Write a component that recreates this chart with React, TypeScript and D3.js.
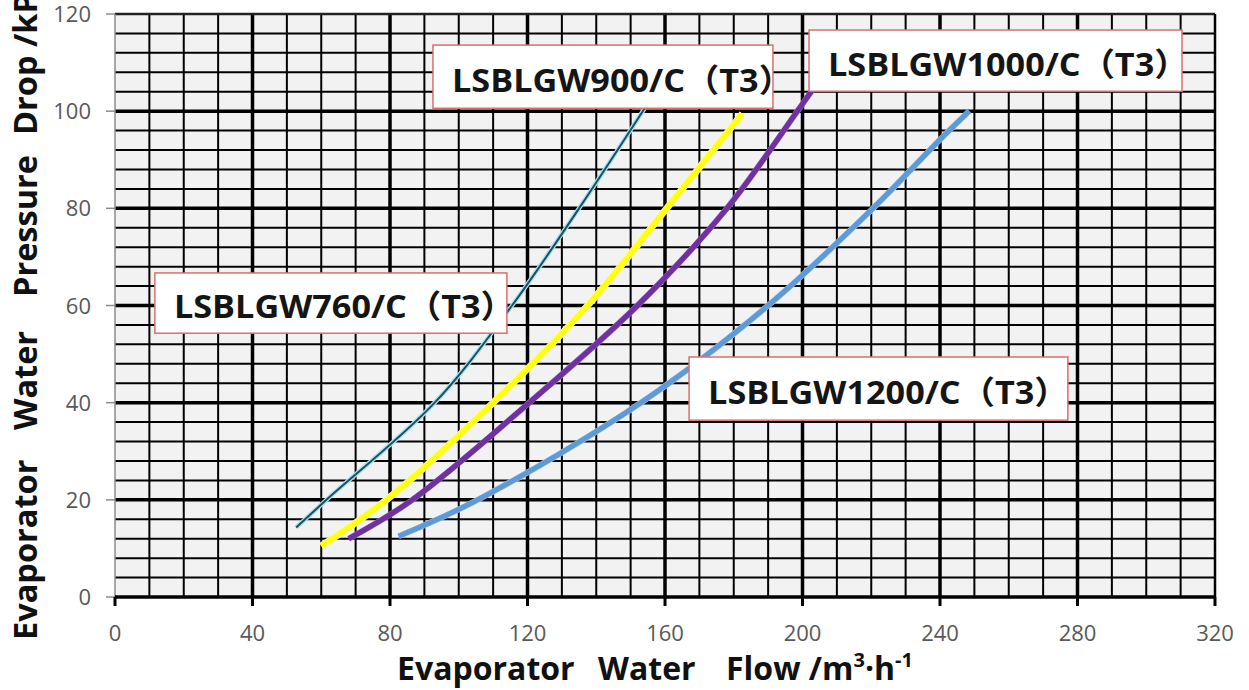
import * as d3 from "d3";
import { useEffect, useRef } from "react";

// axis ticks
const xTicks = [0, 40, 80, 120, 160, 200, 240, 280, 320];
const yTicks = [0, 20, 40, 60, 80, 100, 120];

// curves: flow (m3/h) vs pressure drop (kPa)
const flow760 = [52.7, 61.5, 93, 115.5, 135, 154];
const drop760 = [14.3, 20, 40, 60, 80, 100.5];
const flow900 = [60, 79, 110, 137.5, 160.5, 182.5];
const drop900 = [10.5, 20, 40, 60, 80, 99.5];
const flow1000 = [68, 86.5, 120.5, 152, 178, 198.5, 205.5];
const drop1000 = [12, 20, 40, 60, 80, 100, 107];
const flow1200 = [82.5, 105.5, 153, 190, 220.5, 240.5, 248.5];
const drop1200 = [12.5, 20, 40, 60, 80, 94.5, 100];

const modelNames = [
  "LSBLGW760/C（T3）",
  "LSBLGW900/C（T3）",
  "LSBLGW1000/C（T3）",
  "LSBLGW1200/C（T3）",
];

const FONT = "'Open Sans', 'Noto Sans CJK SC', sans-serif";

export default function App() {
  const svgRef = useRef<SVGSVGElement>(null);
  const width = 1249;
  const height = 690;

  useEffect(() => {
    const svg = d3.select(svgRef.current);
    svg.selectAll("*").remove();

    const x = d3.scaleLinear().domain([0, 320]).range([115, 1215]);
    const y = d3.scaleLinear().domain([0, 120]).range([597, 14]);

    const series = [
      { name: modelNames[0], flow: flow760, drop: drop760, color: "#1d4f5c", halo: "#a6e2f0", w: 2, hw: 4.5 },
      { name: modelNames[1], flow: flow900, drop: drop900, color: "#ffff10", halo: "#fafaa0", w: 5.5, hw: 7 },
      { name: modelNames[2], flow: flow1000, drop: drop1000, color: "#7030a0", halo: "#9a6cc0", w: 5, hw: 6 },
      { name: modelNames[3], flow: flow1200, drop: drop1200, color: "#5e9ad6", halo: "#9cc2ea", w: 5, hw: 6 },
    ];

    // label boxes, in data units (x0, x1, y top, y bottom)
    const boxes = [
      { x0: 11.6, x1: 114, yt: 66.7, yb: 54.3 },
      { x0: 92.5, x1: 191.4, yt: 113.6, yb: 100.6 },
      { x0: 201.9, x1: 310.4, yt: 116.7, yb: 104.1 },
      { x0: 167, x1: 277.2, yt: 49.4, yb: 36.4 },
    ];

    const g = svg.append("g");

    g.append("rect")
      .attr("x", x(0))
      .attr("y", y(120))
      .attr("width", x(320) - x(0))
      .attr("height", y(0) - y(120))
      .attr("fill", "#f2f2f2");

    const xGrid = d3.range(10, 320, 10);
    const yGrid = d3.range(4, 120, 4);
    const xMinor = xGrid.filter((d) => d % 40 !== 0);
    const xMajor = xGrid.filter((d) => d % 40 === 0);
    const yMinor = yGrid.filter((d) => d % 20 !== 0);
    const yMajor = yGrid.filter((d) => d % 20 === 0);

    const vlines = (data: number[], w: number) =>
      g.append("g")
        .selectAll("line")
        .data(data)
        .join("line")
        .attr("x1", (d) => x(d))
        .attr("x2", (d) => x(d))
        .attr("y1", y(120))
        .attr("y2", y(0))
        .attr("stroke", "#000")
        .attr("stroke-width", w);
    const hlines = (data: number[], w: number) =>
      g.append("g")
        .selectAll("line")
        .data(data)
        .join("line")
        .attr("x1", x(0))
        .attr("x2", x(320))
        .attr("y1", (d) => y(d))
        .attr("y2", (d) => y(d))
        .attr("stroke", "#000")
        .attr("stroke-width", w);

    vlines(xMinor, 2);
    hlines(yMinor, 2);
    vlines(xMajor, 3.5);
    hlines(yMajor, 3.5);

    // frame
    g.append("line").attr("x1", x(0)).attr("x2", x(320)).attr("y1", y(120)).attr("y2", y(120))
      .attr("stroke", "#222").attr("stroke-width", 2.5);
    g.append("line").attr("x1", x(320)).attr("x2", x(320)).attr("y1", y(120)).attr("y2", y(0))
      .attr("stroke", "#000").attr("stroke-width", 2.5);
    g.append("line").attr("x1", x(0)).attr("x2", x(0)).attr("y1", y(120)).attr("y2", y(0))
      .attr("stroke", "#8c8c8c").attr("stroke-width", 1.5);

    // y ticks
    g.append("g")
      .selectAll("line")
      .data(yTicks)
      .join("line")
      .attr("x1", x(0) - 9)
      .attr("x2", x(0))
      .attr("y1", (d) => y(d))
      .attr("y2", (d) => y(d))
      .attr("stroke", "#8c8c8c")
      .attr("stroke-width", 1.5);

    // x axis
    g.append("line").attr("x1", x(0)).attr("x2", x(320)).attr("y1", y(0)).attr("y2", y(0))
      .attr("stroke", "#000").attr("stroke-width", 3.5);
    g.append("g")
      .selectAll("line")
      .data(xTicks)
      .join("line")
      .attr("x1", (d) => x(d))
      .attr("x2", (d) => x(d))
      .attr("y1", y(0))
      .attr("y2", y(0) + 9)
      .attr("stroke", "#000")
      .attr("stroke-width", 3);

    // tick labels
    g.append("g")
      .selectAll("text")
      .data(xTicks)
      .join("text")
      .attr("x", (d) => x(d))
      .attr("y", 641)
      .attr("text-anchor", "middle")
      .attr("font-family", FONT)
      .attr("font-size", 22)
      .attr("fill", "#595959")
      .text((d) => d);
    g.append("g")
      .selectAll("text")
      .data(yTicks)
      .join("text")
      .attr("x", 91)
      .attr("y", (d) => y(d) + 8)
      .attr("text-anchor", "end")
      .attr("font-family", FONT)
      .attr("font-size", 22)
      .attr("fill", "#595959")
      .text((d) => d);

    // curves
    const line = d3
      .line<[number, number]>()
      .x((d) => x(d[0]))
      .y((d) => y(d[1]))
      .curve(d3.curveCatmullRom.alpha(0.5));
    series.forEach((s) => {
      const pts = s.flow.map((f, i) => [f, s.drop[i]] as [number, number]);
      g.append("path").attr("d", line(pts)).attr("fill", "none")
        .attr("stroke", s.halo).attr("stroke-width", s.hw);
      g.append("path").attr("d", line(pts)).attr("fill", "none")
        .attr("stroke", s.color).attr("stroke-width", s.w);
    });

    // label boxes
    boxes.forEach((b, i) => {
      g.append("rect")
        .attr("x", x(b.x0))
        .attr("y", y(b.yt))
        .attr("width", x(b.x1) - x(b.x0))
        .attr("height", y(b.yb) - y(b.yt))
        .attr("fill", "#fff")
        .attr("stroke", "#d9706f")
        .attr("stroke-width", 1.5);
      g.append("text")
        .attr("transform", `translate(${x(b.x0) + 19},${(y(b.yt) + y(b.yb)) / 2 + 15}) scale(1.07,1)`)
        .attr("font-family", FONT)
        .attr("font-weight", 700)
        .attr("font-size", 32)
        .attr("fill", "#151515")
        .text(series[i].name);
    });

    // x axis title
    const xt = g.append("text")
      .attr("transform", "translate(397,680)")
      .attr("font-family", FONT)
      .attr("font-weight", 700)
      .attr("font-size", 32)
      .attr("fill", "#111");
    xt.append("tspan").attr("x", 0).text("Evaporator");
    xt.append("tspan").attr("x", 201).text("Water");
    xt.append("tspan").attr("x", 329).text("Flow /m");
    xt.append("tspan").attr("dy", -13).attr("font-size", 20).text("3");
    xt.append("tspan").attr("dy", 13).text("·h");
    xt.append("tspan").attr("dy", -13).attr("font-size", 20).text("-1");

    // y axis title
    const yt = g.append("text")
      .attr("transform", "translate(37,640) rotate(-90)")
      .attr("font-family", FONT)
      .attr("font-weight", 700)
      .attr("font-size", 32.5)
      .attr("fill", "#111");
    yt.append("tspan").attr("x", 0).text("Evaporator");
    yt.append("tspan").attr("x", 210).text("Water");
    yt.append("tspan").attr("x", 343).text("Pressure");
    yt.append("tspan").attr("x", 505).text("Drop /kPa");
  }, []);

  return (
    <svg
      ref={svgRef}
      width={width}
      height={height}
      style={{ position: "absolute", left: 0, top: 0, background: "#fff" }}
    />
  );
}
